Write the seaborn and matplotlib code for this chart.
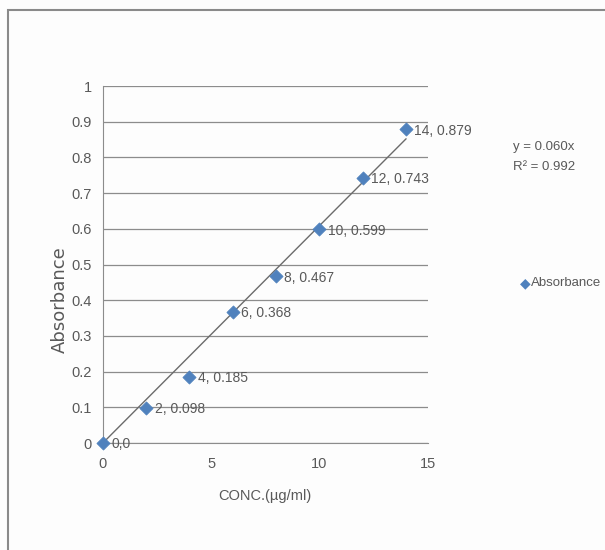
import numpy as np
import pandas as pd
import matplotlib
matplotlib.use("Agg")
import matplotlib.pyplot as plt
import seaborn as sns

# calibration data
conc = [0, 2, 4, 6, 8, 10, 12, 14]
absorbance = [0, 0.098, 0.185, 0.368, 0.467, 0.599, 0.743, 0.879]
point_labels = ["0,0", "2, 0.098", "4, 0.185", "6, 0.368", "8, 0.467",
                "10, 0.599", "12, 0.743", "14, 0.879"]
x_ticks = [0, 5, 10, 15]
y_ticks = [0, 0.1, 0.2, 0.3, 0.4, 0.5, 0.6, 0.7, 0.8, 0.9, 1]
equation = "y = 0.060x"
r_squared = "R² = 0.992"

df = pd.DataFrame({"CONC": conc, "Absorbance": absorbance})

# linear trend through origin
slope = (df["CONC"] * df["Absorbance"]).sum() / (df["CONC"] ** 2).sum()
trend = pd.DataFrame({"CONC": [0, 14]})
trend["fit"] = slope * trend["CONC"]

sns.set_style("white")
narrow = ["Liberation Sans Narrow", "Liberation Sans", "DejaVu Sans"]
plt.rcParams["font.family"] = narrow

text_col = "#595959"
blue = "#4F81BD"

fig = plt.figure(figsize=(6.05, 5.5), dpi=100)
fig.patch.set_facecolor("#fdfdfd")
# outer chart frame
fig.add_artist(plt.Rectangle((0.014, -0.01), 1.0, 0.992, transform=fig.transFigure,
                             fill=False, edgecolor="#8a8a8a", linewidth=1.5))
ax = fig.add_axes([0.170, 0.1945, 0.537, 0.649])
ax.set_facecolor("#fdfdfd")

sns.lineplot(data=trend, x="CONC", y="fit", ax=ax, color="#6b6b6b", linewidth=1.0)
sns.scatterplot(data=df, x="CONC", y="Absorbance", ax=ax, marker="D", s=45,
                color=blue, edgecolor=blue, zorder=5, legend=False, clip_on=False)

for xv, yv, lab in zip(conc, absorbance, point_labels):
    ax.annotate(lab, (xv, yv), xytext=(6, -1), textcoords="offset points",
                ha="left", va="center", fontsize=10, color=text_col)

ax.set_xlim(0, 15)
ax.set_ylim(0, 1)
ax.set_xticks(x_ticks)
ax.set_yticks(y_ticks)
ax.set_yticklabels([f"{v:g}" for v in y_ticks])
ax.yaxis.grid(True, color="#8c8c8c", linewidth=0.9)
ax.xaxis.grid(False)
for side in ["top", "right"]:
    ax.spines[side].set_visible(False)
ax.spines["left"].set_color("#8c8c8c")
ax.spines["bottom"].set_color("#8c8c8c")
ax.tick_params(axis="both", labelsize=10.5, colors=text_col, length=0, pad=8)
ax.tick_params(axis="x", length=4, direction="out", color="#8c8c8c", pad=6)

ax.set_xlabel("CONC.(µg/ml)", fontsize=10.5, color=text_col, labelpad=13)
ax.set_ylabel("")
fig.text(0.099, 0.455, "Absorbance", rotation=90, ha="center", va="center",
         fontsize=13, color=text_col, family="DejaVu Sans")

fig.text(0.848, 0.728, equation, fontsize=9.5, color=text_col)
fig.text(0.848, 0.691, r_squared, fontsize=9.5, color=text_col)
fig.text(0.860, 0.485, "◆", fontsize=10, color=blue, va="center",
         family="DejaVu Sans")
fig.text(0.878, 0.485, "Absorbance", fontsize=9.5, color=text_col, va="center")

fig.savefig("out.png", dpi=100, facecolor=fig.get_facecolor())
